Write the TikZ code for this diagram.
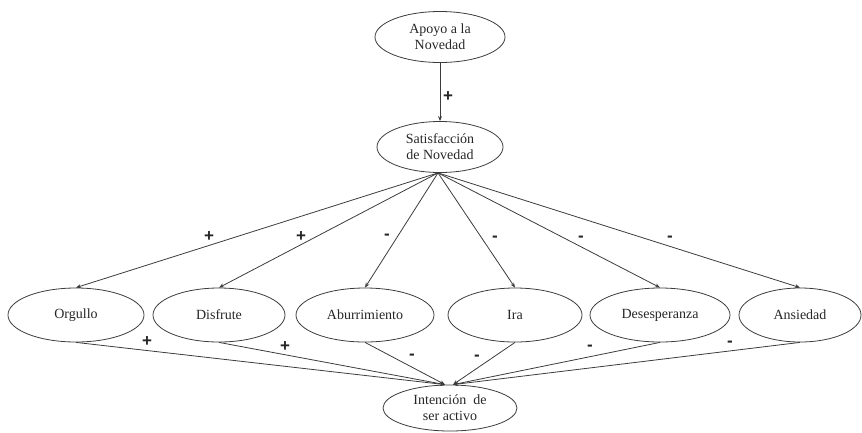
\documentclass[tikz,border=0pt]{standalone}
\usepackage{fontspec}
\setmainfont{Liberation Serif}
\newfontfamily\signfont{Liberation Sans}
\usetikzlibrary{shapes.geometric,arrows.meta,calc}
\definecolor{ink}{RGB}{60,60,60}
\begin{document}
\begin{tikzpicture}[x=1pt,y=-1pt,
  emo/.style={draw=ink,line width=0.8pt,ellipse,inner sep=0pt,font=\fontsize{14}{16}\selectfont,align=center,text=black!85},
  link/.style={draw=ink,line width=0.8pt,-{Stealth[length=5pt,width=4pt]}},
  sgn/.style={font=\signfont\bfseries\fontsize{17}{17}\selectfont,text=black!85}]
\useasboundingbox (0,0) rectangle (862,432);
% top chain
\node[emo,minimum width=130,minimum height=51] (apo) at (440,37) {Apoyo a la\\Novedad};
\node[emo,minimum width=126,minimum height=51] (sat) at (440,147) {Satisfacción\\de Novedad};
% emotions
\node[emo,minimum width=136,minimum height=54] (org) at (76,315) {Orgullo};
\node[emo,minimum width=132,minimum height=54] (dis) at (219,315) {Disfrute};
\node[emo,minimum width=138,minimum height=54] (abu) at (365,315) {Aburrimiento};
\node[emo,minimum width=134,minimum height=54] (ira) at (515,315) {Ira};
\node[emo,minimum width=140,minimum height=54] (des) at (660,315) {Desesperanza};
\node[emo,minimum width=122,minimum height=54] (ans) at (800,315) {Ansiedad};
% outcome
\node[emo,minimum width=134,minimum height=46] (int) at (450,408) {Intención~ de\\ser activo};
\coordinate (inL) at ($(int.north)+(-5,0)$);
\coordinate (inR) at ($(int.north)+(3,0)$);
\coordinate (src) at ($(sat.south)+(-2,0)$);
% arrows
\draw[link] (apo) -- (sat);
\foreach \n in {org,dis,abu,ira,des,ans} \draw[link] (src) -- (\n.north);
\foreach \n in {org,dis,abu} \draw[link] (\n.south) -- (inL);
\foreach \n in {ira,des,ans} \draw[link] (\n.south) -- (inR);
% signs
\node[sgn] (s0) at (448,97) {+};
\node[sgn] (s1) at (209,237) {+};
\node[sgn] (s2) at (301,237) {+};
\node[sgn] (s3) at (387,237) {-};
\node[sgn] (s4) at (495,239) {-};
\node[sgn] (s5) at (581,239) {-};
\node[sgn] (s6) at (670,239) {-};
\node[sgn] (t1) at (147,342) {+};
\node[sgn] (t2) at (285,347) {+};
\node[sgn] (t3) at (412,357) {-};
\node[sgn] (t4) at (477,358) {-};
\node[sgn] (t5) at (590,348) {-};
\node[sgn] (t6) at (730,344) {-};
\end{tikzpicture}
\end{document}
